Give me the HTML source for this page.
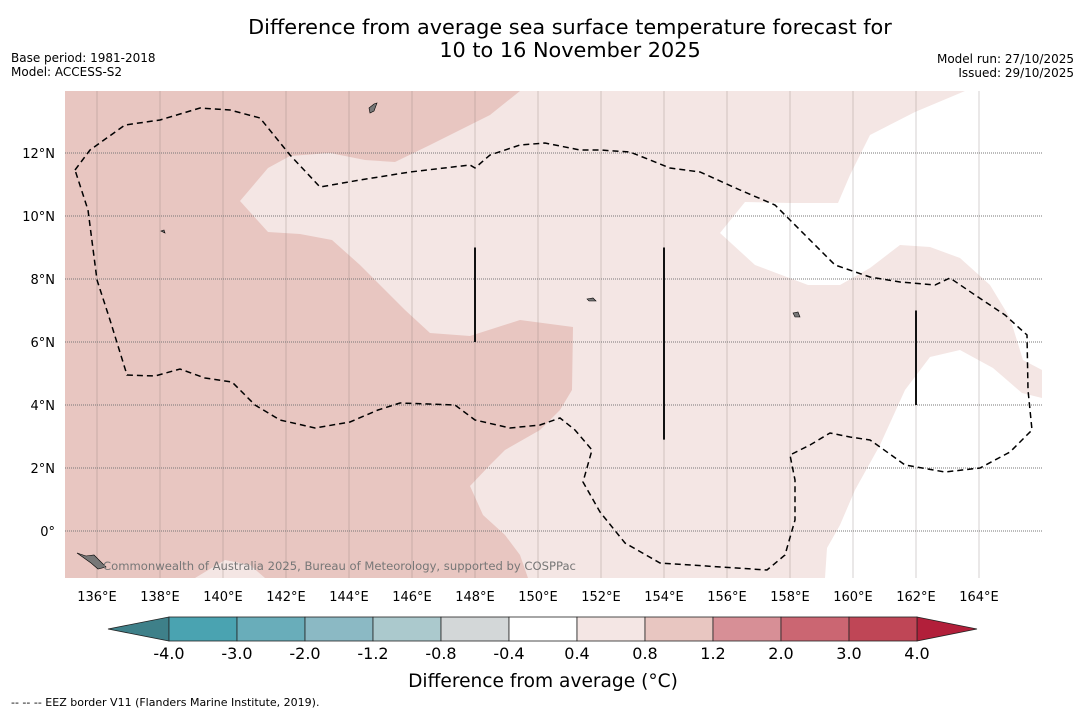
<!DOCTYPE html>
<html><head><meta charset="utf-8"><style>
body{margin:0;background:#fff;font-family:"DejaVu Sans","Liberation Sans",sans-serif}
svg{display:block}
</style></head><body>
<svg width="1085" height="713" xmlns="http://www.w3.org/2000/svg" font-family="DejaVu Sans, Liberation Sans, sans-serif" id="root">
<text x="570" y="34" text-anchor="middle" font-size="20.8">Difference from average sea surface temperature forecast for</text>
<text x="570" y="57" text-anchor="middle" font-size="20.8">10 to 16 November 2025</text>
<text x="11" y="62" font-size="12">Base period: 1981-2018</text>
<text x="11" y="76" font-size="12">Model: ACCESS-S2</text>
<text x="1074" y="63" font-size="12" text-anchor="end">Model run: 27/10/2025</text>
<text x="1074" y="77" font-size="12" text-anchor="end">Issued: 29/10/2025</text>
<defs><clipPath id="mc"><rect x="65" y="91" width="977" height="487"/></clipPath></defs>
<g id="map" clip-path="url(#mc)">
<rect x="65" y="91" width="977" height="487" fill="#f4e6e4"/>
</g>
<g id="axes"></g>
<g id="cbar"></g>
<text x="543" y="687" font-size="18.6" text-anchor="middle">Difference from average (°C)</text>
<text x="11" y="706" font-size="11">--  --  -- EEZ border V11 (Flanders Marine Institute, 2019).</text>
</svg>
<script>
const NS="http://www.w3.org/2000/svg";
const levels=["-4.0","-3.0","-2.0","-1.2","-0.8","-0.4","0.4","0.8","1.2","2.0","3.0","4.0"];
const levelColors=["#4aa3b1","#69adba","#8bb9c4","#abc9cd","#d3d7d8","#ffffff","#f4e6e4","#e8c6c1","#d78f96","#cb6672","#bf4656"];
const lonTicks=[136,138,140,142,144,146,148,150,152,154,156,158,160,162,164];
const latTicks=[12,10,8,6,4,2,0];
const X=lon=>65.5+(lon-135)*31.5, Y=lat=>531-lat*31.5;
const darkRegion=[[65,91],[520,91],[490,115],[430,145],[395,162],[365,160],[330,153],[290,156],[268,168],[240,201],[268,232],[300,234],[332,240],[360,265],[380,285],[405,310],[430,333],[470,336],[520,320],[573,327],[572,390],[560,410],[540,430],[505,450],[490,465],[470,486],[483,515],[505,535],[520,555],[528,578],[265,578],[250,565],[225,560],[195,578],[65,578]];
const whiteRegion=[[965,91],[1042,91],[1042,370],[1023,360],[1010,318],[990,285],[960,258],[930,247],[900,245],[870,268],[840,285],[808,285],[755,265],[720,233],[745,202],[790,203],[838,203],[850,175],[870,135],[915,112]];
const whiteRegion2=[[1042,398],[1022,393],[993,368],[960,350],[930,357],[905,390],[880,445],[855,490],[840,525],[827,548],[825,578],[1042,578]];
const eez=[[75,170],[90,150],[125,125],[160,120],[200,108],[230,110],[260,118],[290,155],[320,187],[360,180],[410,172],[470,165],[475,168],[490,155],[520,145],[545,143],[580,150],[600,150],[630,152],[670,168],[700,172],[740,190],[775,205],[800,230],[835,265],[870,277],[900,282],[935,285],[950,278],[975,295],[1005,315],[1027,335],[1028,390],[1032,430],[1010,452],[980,468],[945,472],[905,465],[880,447],[870,440],[850,437],[830,433],[810,445],[790,455],[795,480],[795,520],[785,555],[767,570],[660,563],[625,543],[600,512],[583,482],[592,450],[575,430],[560,418],[540,425],[510,428],[475,420],[455,405],[400,403],[378,410],[350,422],[315,428],[280,420],[255,405],[232,382],[205,378],[180,369],[155,376],[127,375],[110,320],[97,280],[88,210],[75,170]];
const segs=[[148,9,6],[154,9,2.9],[162,7,4]];
const map=document.getElementById('map');
function poly(pts,fill,name){const p=document.createElementNS(NS,'polygon');p.setAttribute('points',pts.map(q=>q.join(',')).join(' '));p.setAttribute('fill',fill);


map.appendChild(p);return p;}
poly(darkRegion,'#e8c6c1','anomaly-0.8-1.2');
poly(whiteRegion,'#ffffff','anomaly-near-zero');
poly(whiteRegion2,'#ffffff','anomaly-near-zero-south');
lonTicks.forEach(l=>{const g=document.createElementNS(NS,'line');g.setAttribute('x1',X(l));g.setAttribute('x2',X(l));g.setAttribute('y1',91);g.setAttribute('y2',578);g.setAttribute('stroke','#8a7a78');g.setAttribute('stroke-opacity','0.35');g.setAttribute('stroke-width','1');


map.appendChild(g);});
latTicks.forEach(l=>{const g=document.createElementNS(NS,'line');g.setAttribute('x1',65);g.setAttribute('x2',1042);g.setAttribute('y1',Y(l));g.setAttribute('y2',Y(l));g.setAttribute('stroke','#777');g.setAttribute('stroke-dasharray','1,1');g.setAttribute('stroke-width','1');


map.appendChild(g);});
const e=document.createElementNS(NS,'polyline');e.setAttribute('points',eez.map(q=>q.join(',')).join(' '));e.setAttribute('fill','none');e.setAttribute('stroke','#000');e.setAttribute('stroke-width','1.5');e.setAttribute('stroke-dasharray','6,4');


map.appendChild(e);
segs.forEach(s=>{const l=document.createElementNS(NS,'line');l.setAttribute('x1',X(s[0]));l.setAttribute('x2',X(s[0]));l.setAttribute('y1',Y(s[1]));l.setAttribute('y2',Y(s[2]));l.setAttribute('stroke','#111');l.setAttribute('stroke-width','2');


map.appendChild(l);});
[[[77,553],[86,556],[94,555],[100,561],[106,567],[98,569],[91,563]],[[369,108],[374,104],[377,103],[374,111],[370,113]],[[793,313],[798,312],[800,317],[795,317]],[[161,231],[164,230],[165,233]],[[587,299],[593,298],[596,301],[589,301]]].forEach(p=>{const q=poly(p,'#777','island');q.setAttribute('stroke','#000');q.setAttribute('stroke-width','0.6');});
const c=document.createElementNS(NS,'text');c.setAttribute('x',103);c.setAttribute('y',570);c.setAttribute('font-size','11.6');c.setAttribute('fill','#777');c.textContent='Commonwealth of Australia 2025, Bureau of Meteorology, supported by COSPPac';


map.appendChild(c);
const ax=document.getElementById('axes');
lonTicks.forEach(l=>{const t=document.createElementNS(NS,'text');t.setAttribute('x',X(l));t.setAttribute('y',601);t.setAttribute('font-size','13');t.setAttribute('text-anchor','middle');t.textContent=l+'°E';


ax.appendChild(t);});
latTicks.forEach(l=>{const t=document.createElementNS(NS,'text');t.setAttribute('x',55);t.setAttribute('y',Y(l)+5);t.setAttribute('font-size','13');t.setAttribute('text-anchor','end');t.textContent=l===0?'0°':l+'°N';


ax.appendChild(t);});
const cb=document.getElementById('cbar');const cx0=169,cx1=917,cy=617,ch=24,w=(cx1-cx0)/levelColors.length;
function cbpoly(pts,fill,name){const p=document.createElementNS(NS,'polygon');p.setAttribute('points',pts.map(q=>q.join(',')).join(' '));p.setAttribute('fill',fill);p.setAttribute('stroke','#222');p.setAttribute('stroke-width','0.8');


cb.appendChild(p);}
cbpoly([[cx0,cy],[108,cy+ch/2],[cx0,cy+ch]],'#3e8089','colorbar-extend-low');
cbpoly([[cx1,cy],[977,cy+ch/2],[cx1,cy+ch]],'#b21f3a','colorbar-extend-high');
levelColors.forEach((col,i)=>{const r=document.createElementNS(NS,'rect');r.setAttribute('x',cx0+i*w);r.setAttribute('y',cy);r.setAttribute('width',w);r.setAttribute('height',ch);r.setAttribute('fill',col);r.setAttribute('stroke','#222');r.setAttribute('stroke-width','0.8');


cb.appendChild(r);});
levels.forEach((lv,i)=>{const t=document.createElementNS(NS,'text');t.setAttribute('x',cx0+i*w);t.setAttribute('y',659);t.setAttribute('font-size','16');t.setAttribute('text-anchor','middle');t.textContent=lv;


cb.appendChild(t);});
</script>
</body></html>
